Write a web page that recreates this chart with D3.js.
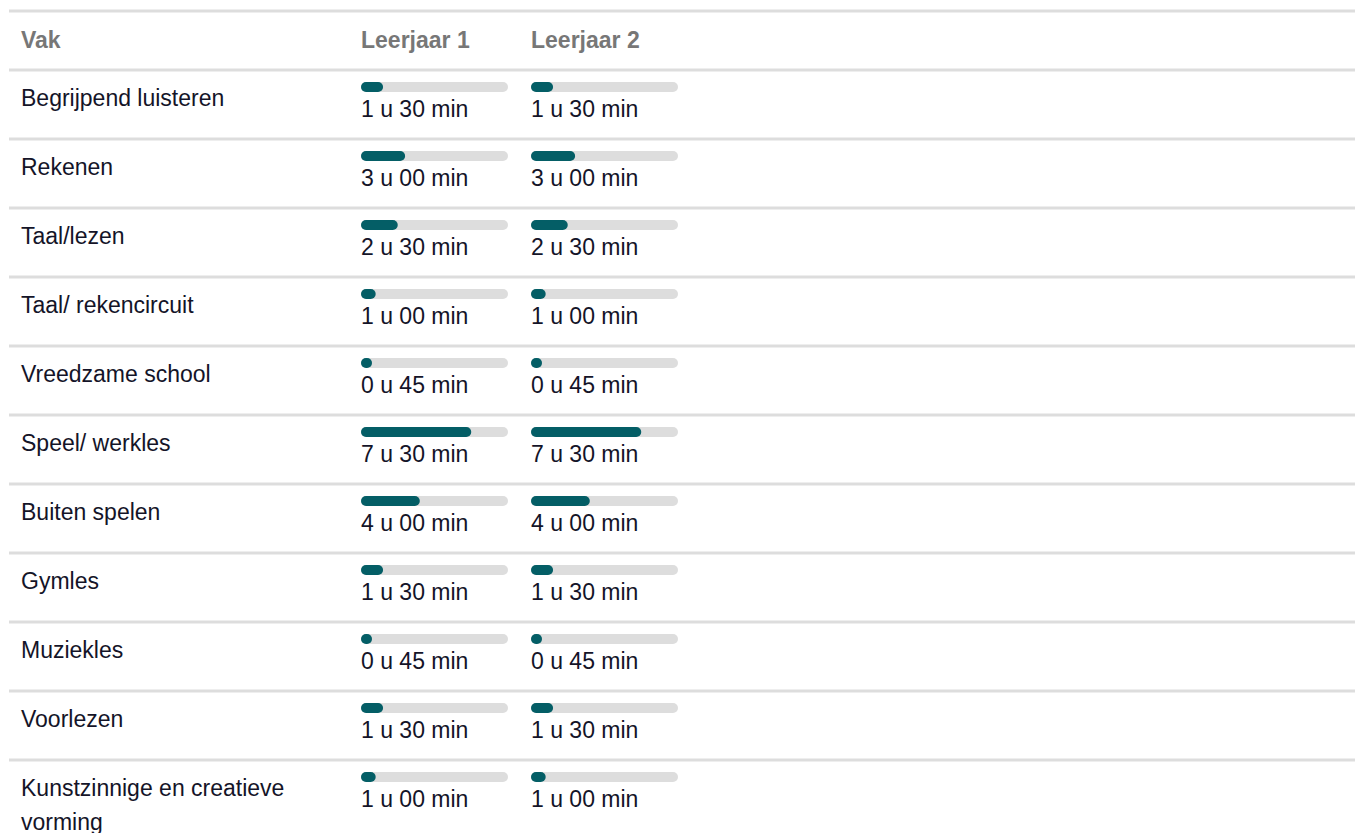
<!DOCTYPE html>
<html>
<head>
<meta charset="utf-8">
<script src="https://cdn.jsdelivr.net/npm/d3@7"></script>
<style>
  body { margin: 0; background: #fff; }
</style>
</head>
<body>
<div id="chart"></div>
<script>
// data: minutes per week
let subjects = ["Begrijpend luisteren", "Rekenen", "Taal/lezen", "Taal/ rekencircuit",
  "Vreedzame school", "Speel/ werkles", "Buiten spelen", "Gymles", "Muziekles",
  "Voorlezen", "Kunstzinnige en creatieve vorming"];
let leerjaar1 = [90, 180, 150, 60, 45, 450, 240, 90, 45, 90, 60];
let leerjaar2 = [90, 180, 150, 60, 45, 450, 240, 90, 45, 90, 60];
let columns = ["Vak", "Leerjaar 1", "Leerjaar 2"];
let maxMinutes = 600;

let svgWidth = 1355;
let svgHeight = 833;

let headerTop = 11;
let headerBottom = 70;
let rowHeight = 69;
let labelX = 21;
let colX = [361, 531];
let barWidth = 147;
let barHeight = 10;
let fontFam = "'Liberation Sans', Arial, Helvetica, sans-serif";

let svg = d3.select("#chart")
  .append("svg")
  .attr("width", svgWidth)
  .attr("height", svgHeight)
  .attr("font-family", fontFam)
  .style("display", "block");

let x = d3.scaleLinear()
  .domain([0, maxMinutes])
  .range([0, barWidth]);

let y = d3.scaleBand()
  .domain(d3.range(subjects.length))
  .range([headerBottom, headerBottom + rowHeight * subjects.length]);

function fmt(m) {
  let h = Math.floor(m / 60);
  let mm = m % 60;
  return h + " u " + (mm < 10 ? "0" + mm : mm) + " min";
}

// header lines
svg.append("rect")
  .attr("x", 9).attr("y", headerTop - 1.5)
  .attr("width", svgWidth).attr("height", 3)
  .attr("fill", "#dddddd");

svg.selectAll("text.head")
  .data(columns)
  .enter()
  .append("text")
  .attr("class", "head")
  .attr("x", (d, i) => i === 0 ? labelX : colX[i - 1])
  .attr("y", 48)
  .attr("font-family", fontFam)
  .attr("font-size", "23px")
  .attr("font-weight", "bold")
  .attr("fill", "#777777")
  .text(d => d);

let rows = svg.selectAll("g.row")
  .data(subjects)
  .enter()
  .append("g")
  .attr("class", "row")
  .attr("transform", (d, i) => `translate(0, ${y(i)})`);

rows.append("rect")
  .attr("x", 9).attr("y", -1.5)
  .attr("width", svgWidth).attr("height", 3)
  .attr("fill", "#dddddd");

// label with wrapping
rows.append("text")
  .attr("x", labelX)
  .attr("y", 36)
  .attr("font-family", fontFam)
  .attr("font-size", "23px")
  .attr("fill", "#141428")
  .each(function(d) {
    let t = d3.select(this);
    let words = d.split(" ");
    let line = [];
    let tspan = t.append("tspan").attr("x", labelX).attr("dy", 0);
    words.forEach(w => {
      line.push(w);
      tspan.text(line.join(" "));
      if (tspan.node().getComputedTextLength() > 300 && line.length > 1) {
        line.pop();
        tspan.text(line.join(" "));
        line = [w];
        tspan = t.append("tspan").attr("x", labelX).attr("dy", 34).text(w);
      }
    });
  });

[leerjaar1, leerjaar2].forEach(function(series, c) {
  rows.append("rect")
    .attr("x", colX[c])
    .attr("y", 12)
    .attr("width", x(maxMinutes))
    .attr("height", barHeight)
    .attr("rx", barHeight / 2)
    .attr("fill", "#dddddd");

  rows.append("rect")
    .attr("x", colX[c])
    .attr("y", 12)
    .attr("width", (d, i) => Math.max(barHeight, x(series[i])))
    .attr("height", barHeight)
    .attr("rx", barHeight / 2)
    .attr("fill", "#045e66");

  rows.append("text")
    .attr("x", colX[c])
    .attr("y", 47)
    .attr("font-family", fontFam)
    .attr("font-size", "23px")
    .attr("fill", "#141428")
    .text((d, i) => fmt(series[i]));
});
</script>
</body>
</html>
